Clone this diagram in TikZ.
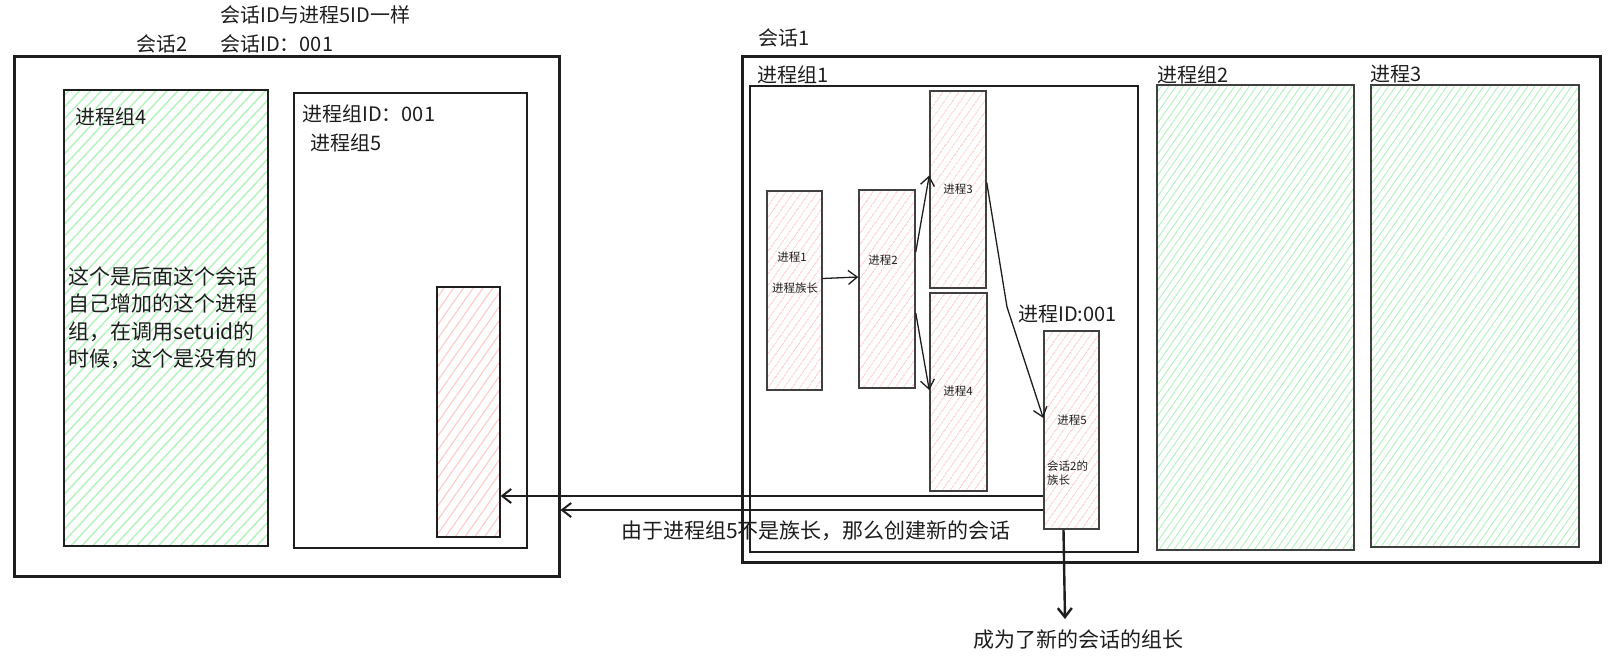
\documentclass[tikz,border=0pt]{standalone}
\usepackage{fontspec}
\setmainfont{Noto Sans CJK SC}
\usetikzlibrary{arrows.meta,positioning,patterns.meta,calc}
\definecolor{InkBlack}{HTML}{1E1E1E}
\definecolor{InkGray}{HTML}{404040}
\definecolor{HatchRed}{HTML}{FFC9C9}
\definecolor{HatchGreen}{HTML}{B2F2BB}
\tikzset{
  session/.style={draw=InkBlack,line width=3pt,inner sep=0pt},
  pgroup/.style={draw=InkBlack,line width=2.2pt,inner sep=0pt},
  greengroup/.style={draw=InkGray,line width=1.2pt,inner sep=0pt,
    pattern={Lines[angle=55,distance=6pt,line width=0.9pt]},pattern color=HatchGreen},
  proc/.style={draw=InkGray,line width=1.5pt,inner sep=0pt,
    pattern={Lines[angle=55,distance=6.5pt,line width=0.9pt]},pattern color=HatchRed},
  label/.style={text=InkBlack,font=\fontsize{20}{24}\selectfont,inner sep=0pt,anchor=west},
  note/.style={text=InkBlack,font=\fontsize{21}{27.5}\selectfont,inner sep=0pt},
  small/.style={text=InkBlack,font=\fontsize{11.5}{14}\selectfont,inner sep=0pt},
  arr/.style={draw=InkBlack,line width=1.3pt,-{Straight Barb[length=9pt,width=14pt]}},
}
\begin{document}
\begin{tikzpicture}[x=1pt,y=-1pt]
  \useasboundingbox[fill=white] (0,0) rectangle (1608,657);
  % session 2
  \node[session,minimum width=545pt,minimum height=520pt] (s2) at (286.5,316) {};
  \node[pgroup,minimum width=204pt,minimum height=456pt,
    pattern={Lines[angle=47,distance=8pt,line width=1.4pt]},pattern color=HatchGreen] (g4) at (166,318) {};
  \node[pgroup,minimum width=233pt,minimum height=455pt] (g5) at (410.5,320.5) {};
  \node[pgroup,minimum width=63pt,minimum height=250pt,
    pattern={Lines[angle=55,distance=8pt,line width=1.1pt]},pattern color=HatchRed] (r5) at (468.5,412) {};
  \node[label] (sameid) at (220,15) {会话ID与进程5ID一样};
  \node[label] (s2name) at (136,44) {会话2};
  \node[label] (s2id) at (220,44) {会话ID：001};
  \node[label] (g4name) at (75,117) {进程组4};
  \node[label] (g5id) at (302,114) {进程组ID：001};
  \node[label] (g5name) at (310,143) {进程组5};
  \node[note,anchor=west,align=left] (g4note) at (68,317.5)
    {这个是后面这个会话\\自己增加的这个进程\\组，在调用setuid的\\时候，这个是没有的};
  % session 1
  \node[session,minimum width=858pt,minimum height=506pt] (s1) at (1171,309) {};
  \node[pgroup,minimum width=388pt,minimum height=466pt] (g1) at (944,319) {};
  \node[greengroup,minimum width=197pt,minimum height=465pt] (g2) at (1255.5,317.5) {};
  \node[greengroup,minimum width=208pt,minimum height=462pt] (g3) at (1475,316) {};
  \node[label] (s1name) at (758,38) {会话1};
  \node[label] (g1name) at (757,75) {进程组1};
  \node[label] (g2name) at (1157,75) {进程组2};
  \node[label] (g3name) at (1370,74) {进程3};
  % processes
  \node[proc,minimum width=55pt,minimum height=199pt] (p1) at (794.5,290.5) {};
  \node[proc,minimum width=56pt,minimum height=198pt] (p2) at (887,289) {};
  \node[proc,minimum width=56pt,minimum height=197pt] (p3) at (958,189.5) {};
  \node[proc,minimum width=57pt,minimum height=198pt] (p4) at (958.5,392) {};
  \node[proc,minimum width=55pt,minimum height=198pt] (p5) at (1071.5,430) {};
  \node[small] (p1name) at (792,257) {进程1};
  \node[small] (p1lead) at (795,288) {进程族长};
  \node[small] (p2name) at (883,260) {进程2};
  \node[small] (p3name) at (958,189) {进程3};
  \node[small] (p4name) at (958,391) {进程4};
  \node[small] (p5name) at (1072,420) {进程5};
  \node[small,anchor=west,align=left] (p5lead) at (1047,473) {会话2的\\族长};
  \node[label] (p5id) at (1018,314) {进程ID:001};
  % connectors
  \draw[arr] ([yshift=12pt]p1.east) -- ([yshift=12pt]p2.west);
  \draw[arr] ([yshift=37pt]p2.east) -- ([yshift=14pt]p3.west);
  \draw[arr] ([yshift=-24pt]p2.east) -- ([yshift=2pt]p4.west);
  \coordinate (bend) at (1007,307);
  \draw[arr] ([yshift=7pt]p3.east) -- (bend) -- ([yshift=12pt]p5.west);
  \coordinate (src1) at ([yshift=-66pt]p5.west);
  \coordinate (src2) at ([yshift=-80pt]p5.west);
  \draw[arr,line width=2pt] (src1) -- (src1 -| r5.east);
  \draw[arr,line width=2pt] (src2) -- (src2 -| s2.east);
  \node[note] (newsess) at (816,531) {由于进程组5不是族长，那么创建新的会话};
  \node[note] (newlead) at (1078,640) {成为了新的会话的组长};
  \draw[arr,line width=2.4pt] ([xshift=-8pt]p5.south) -- ([xshift=-13pt,yshift=11pt]newlead.north);
\end{tikzpicture}
\end{document}
